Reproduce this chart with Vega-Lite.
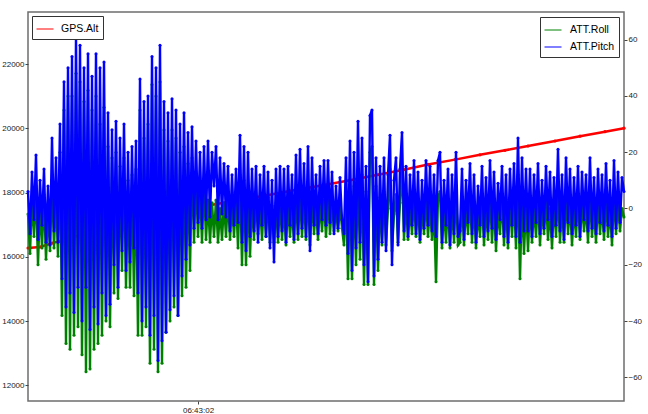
{
"$schema": "https://vega.github.io/schema/vega-lite/v6.json",
"width": 596, "height": 389,
"autosize": {"type": "none"},
"padding": {"left": 28, "top": 12, "right": 24, "bottom": 13},
"background": "white",
"config": {
  "view": {"stroke": "#6e6e6e", "strokeWidth": 1.5},
  "font": "Liberation Sans",
  "axis": {"grid": false, "domain": false, "labelFont": "Liberation Sans", "labelFontSize": 8, "labelColor": "#222", "tickColor": "#444", "tickSize": 3, "title": null, "labelPadding": 1}
},
"encoding": {
  "x": {"field": "t", "type": "temporal",
    "scale": {"domain": [{"year":1900,"month":1,"date":1,"hours":6,"minutes":40,"seconds":12},{"year":1900,"month":1,"date":1,"hours":6,"minutes":50,"seconds":8}], "nice": false},
    "axis": {"values": [{"year":1900,"month":1,"date":1,"hours":6,"minutes":43,"seconds":2}], "format": "%H:%M:%S", "labelAngle": 0, "labelFlush": false, "labelPadding": 2}}
},
"layer": [
  {
    "data": {"format": {"parse": {"t": "date:'%H:%M:%S'"}}, "values": [
      {"t":"06:40:12","alt":16277},{"t":"06:40:24","alt":16308},{"t":"06:40:36","alt":16430},{"t":"06:40:52","alt":16558},
      {"t":"06:41:04","alt":16680},{"t":"06:41:17","alt":16776},{"t":"06:41:34","alt":16931},{"t":"06:41:52","alt":17050},
      {"t":"06:42:09","alt":17149},{"t":"06:42:29","alt":17300},{"t":"06:42:49","alt":17461},{"t":"06:43:15","alt":17617},
      {"t":"06:43:41","alt":17760},{"t":"06:44:07","alt":17897},{"t":"06:44:34","alt":18050},{"t":"06:45:04","alt":18215},
      {"t":"06:45:34","alt":18390},{"t":"06:46:02","alt":18560},{"t":"06:46:29","alt":18720},{"t":"06:46:52","alt":18880},
      {"t":"06:47:19","alt":19030},{"t":"06:47:44","alt":19180},{"t":"06:48:09","alt":19320},{"t":"06:48:32","alt":19455},
      {"t":"06:48:59","alt":19610},{"t":"06:49:24","alt":19760},{"t":"06:49:49","alt":19900},{"t":"06:50:08","alt":20010}
    ]},
    "mark": {"type": "line", "strokeWidth": 2.5, "point": {"filled": true, "size": 10}},
    "encoding": {
      "y": {"field": "alt", "type": "quantitative", "scale": {"domain": [11511, 23629], "nice": false, "zero": false},
        "axis": {"orient": "left", "values": [12000,14000,16000,18000,20000,22000], "format": "d"}},
      "color": {"datum": "GPS.Alt", "scale": {"range": ["#ff0000"]},
        "legend": {"title": null, "orient": "top-left", "offset": 4, "padding": 4, "strokeColor": "#333", "fillColor": "#fff", "cornerRadius": 0,
          "labelFont": "Liberation Sans", "labelFontSize": 10.5, "labelColor": "#000", "symbolType": "stroke", "symbolSize": 289, "symbolStrokeWidth": 1, "labelOffset": 7}}
    }
  },
  {
    "data": {"format": {"parse": {"t": "date:'%H:%M:%S'"}}, "values": [
{"t":"06:40:12","p":6,"r":-2},{"t":"06:40:14","p":-9,"r":-16},{"t":"06:40:16","p":13,"r":4},{"t":"06:40:18","p":-4,"r":-10},{"t":"06:40:20","p":19,"r":8},{"t":"06:40:22","p":-11,"r":-20},{"t":"06:40:24","p":10,"r":2},{"t":"06:40:26","p":-6,"r":-14},{"t":"06:40:28","p":14,"r":5},{"t":"06:40:30","p":-12,"r":-18},{"t":"06:40:32","p":8,"r":0},{"t":"06:40:34","p":-13,"r":-15},{"t":"06:40:36","p":25,"r":10},{"t":"06:40:38","p":-8,"r":-14},{"t":"06:40:40","p":18,"r":6},{"t":"06:40:42","p":-12,"r":-17},{"t":"06:40:44","p":30,"r":20},{"t":"06:40:46","p":-25,"r":-38},{"t":"06:40:48","p":45,"r":35},{"t":"06:40:50","p":-35,"r":-48},{"t":"06:40:52","p":50,"r":40},{"t":"06:40:54","p":-30,"r":-50},{"t":"06:40:56","p":54,"r":40},{"t":"06:40:58","p":-37,"r":-45},
{"t":"06:41:00","p":61,"r":48},{"t":"06:41:02","p":-28,"r":-42},{"t":"06:41:04","p":58,"r":45},{"t":"06:41:06","p":-40,"r":-52},{"t":"06:41:08","p":50,"r":38},{"t":"06:41:10","p":-28,"r":-58},{"t":"06:41:12","p":55,"r":42},{"t":"06:41:14","p":-43,"r":-57},{"t":"06:41:16","p":47,"r":35},{"t":"06:41:18","p":-35,"r":-50},{"t":"06:41:20","p":55,"r":40},{"t":"06:41:22","p":-41,"r":-48},{"t":"06:41:24","p":50,"r":30},{"t":"06:41:26","p":-30,"r":-45},{"t":"06:41:28","p":52,"r":36},{"t":"06:41:30","p":-38,"r":-40},{"t":"06:41:32","p":34,"r":22},{"t":"06:41:34","p":-34,"r":-42},{"t":"06:41:36","p":28,"r":18},{"t":"06:41:38","p":-20,"r":-30},{"t":"06:41:40","p":31,"r":20},{"t":"06:41:42","p":-28,"r":-32},{"t":"06:41:44","p":25,"r":15},{"t":"06:41:46","p":-15,"r":-22},{"t":"06:41:48","p":30,"r":18},{"t":"06:41:50","p":-22,"r":-28},{"t":"06:41:52","p":20,"r":10},{"t":"06:41:54","p":-19,"r":-28},{"t":"06:41:56","p":22,"r":12},{"t":"06:41:58","p":-14,"r":-31},
{"t":"06:42:00","p":24,"r":14},{"t":"06:42:02","p":-30,"r":-45},{"t":"06:42:04","p":46,"r":35},{"t":"06:42:06","p":-40,"r":-45},{"t":"06:42:08","p":38,"r":25},{"t":"06:42:10","p":-35,"r":-42},{"t":"06:42:12","p":40,"r":30},{"t":"06:42:14","p":-45,"r":-55},{"t":"06:42:16","p":54,"r":44},{"t":"06:42:18","p":-38,"r":-50},{"t":"06:42:20","p":50,"r":40},{"t":"06:42:22","p":-54,"r":-58},{"t":"06:42:24","p":58,"r":45},{"t":"06:42:26","p":-47,"r":-55},{"t":"06:42:28","p":38,"r":28},{"t":"06:42:30","p":-44,"r":-44},{"t":"06:42:32","p":34,"r":24},{"t":"06:42:34","p":-36,"r":-40},{"t":"06:42:36","p":39,"r":28},{"t":"06:42:38","p":-31,"r":-35},{"t":"06:42:40","p":35,"r":25},{"t":"06:42:42","p":-38,"r":-38},{"t":"06:42:44","p":30,"r":20},{"t":"06:42:46","p":-24,"r":-31},{"t":"06:42:48","p":34,"r":22},{"t":"06:42:50","p":-18,"r":-28},{"t":"06:42:52","p":27,"r":16},{"t":"06:42:54","p":-13,"r":-22},{"t":"06:42:56","p":29,"r":18},{"t":"06:42:58","p":-7,"r":-12},
{"t":"06:43:00","p":24,"r":12},{"t":"06:43:02","p":-5,"r":-10},{"t":"06:43:04","p":20,"r":8},{"t":"06:43:06","p":-7,"r":-12},{"t":"06:43:08","p":22,"r":10},{"t":"06:43:10","p":-4,"r":-11},{"t":"06:43:12","p":24,"r":3},{"t":"06:43:14","p":-3,"r":-12},{"t":"06:43:16","p":20,"r":2},{"t":"06:43:18","p":8,"r":-10},{"t":"06:43:20","p":22,"r":3},{"t":"06:43:22","p":-4,"r":-12},{"t":"06:43:24","p":18,"r":0},{"t":"06:43:26","p":-2,"r":-11},{"t":"06:43:28","p":16,"r":2},{"t":"06:43:30","p":-3,"r":-10},{"t":"06:43:32","p":15,"r":4},{"t":"06:43:34","p":-8,"r":-11},{"t":"06:43:36","p":12,"r":2},{"t":"06:43:38","p":-6,"r":-10},{"t":"06:43:40","p":14,"r":5},{"t":"06:43:42","p":-5,"r":-14},{"t":"06:43:44","p":26,"r":12},{"t":"06:43:46","p":-12,"r":-20},{"t":"06:43:48","p":22,"r":10},{"t":"06:43:50","p":-15,"r":-20},{"t":"06:43:52","p":20,"r":6},{"t":"06:43:54","p":-10,"r":-17},{"t":"06:43:56","p":14,"r":3},{"t":"06:43:58","p":-8,"r":-11},
{"t":"06:44:00","p":15,"r":4},{"t":"06:44:02","p":-12,"r":-9},{"t":"06:44:04","p":12,"r":2},{"t":"06:44:06","p":-6,"r":-11},{"t":"06:44:08","p":15,"r":3},{"t":"06:44:10","p":-10,"r":-10},{"t":"06:44:12","p":13,"r":4},{"t":"06:44:14","p":-14,"r":-12},{"t":"06:44:16","p":10,"r":1},{"t":"06:44:18","p":-19,"r":-12},{"t":"06:44:20","p":14,"r":2},{"t":"06:44:22","p":-10,"r":-12},{"t":"06:44:24","p":15,"r":3},{"t":"06:44:26","p":-8,"r":-11},{"t":"06:44:28","p":14,"r":1},{"t":"06:44:30","p":-12,"r":-13},{"t":"06:44:32","p":15,"r":2},{"t":"06:44:34","p":-6,"r":-10},{"t":"06:44:36","p":12,"r":0},{"t":"06:44:38","p":-11,"r":-12},{"t":"06:44:40","p":19,"r":5},{"t":"06:44:42","p":-9,"r":-11},{"t":"06:44:44","p":21,"r":5},{"t":"06:44:46","p":-7,"r":-10},{"t":"06:44:48","p":16,"r":3},{"t":"06:44:50","p":-10,"r":-11},{"t":"06:44:52","p":22,"r":6},{"t":"06:44:54","p":-15,"r":-13},{"t":"06:44:56","p":18,"r":4},{"t":"06:44:58","p":-6,"r":-9},
{"t":"06:45:00","p":12,"r":1},{"t":"06:45:02","p":-9,"r":-11},{"t":"06:45:04","p":15,"r":2},{"t":"06:45:06","p":-4,"r":-8},{"t":"06:45:08","p":17,"r":3},{"t":"06:45:10","p":-6,"r":-10},{"t":"06:45:12","p":17,"r":4},{"t":"06:45:14","p":-5,"r":-9},{"t":"06:45:16","p":13,"r":2},{"t":"06:45:18","p":-9,"r":-8},{"t":"06:45:20","p":8,"r":0},{"t":"06:45:22","p":-7,"r":-8},{"t":"06:45:24","p":11,"r":1},{"t":"06:45:26","p":-4,"r":-7},{"t":"06:45:28","p":-9,"r":-13},{"t":"06:45:30","p":18,"r":6},{"t":"06:45:32","p":-16,"r":-25},{"t":"06:45:34","p":24,"r":10},{"t":"06:45:36","p":-22,"r":-25},{"t":"06:45:38","p":20,"r":8},{"t":"06:45:40","p":-14,"r":-20},{"t":"06:45:42","p":31,"r":14},{"t":"06:45:44","p":-12,"r":-18},{"t":"06:45:46","p":25,"r":12},{"t":"06:45:48","p":-20,"r":-27},{"t":"06:45:50","p":15,"r":6},{"t":"06:45:52","p":-26,"r":-27},{"t":"06:45:54","p":33,"r":20},{"t":"06:45:56","p":35,"r":22},{"t":"06:45:58","p":-24,"r":-27},
{"t":"06:46:00","p":18,"r":8},{"t":"06:46:02","p":-18,"r":-22},{"t":"06:46:04","p":15,"r":4},{"t":"06:46:06","p":-12,"r":-13},{"t":"06:46:08","p":18,"r":6},{"t":"06:46:10","p":-15,"r":-13},{"t":"06:46:12","p":12,"r":0},{"t":"06:46:14","p":26,"r":14},{"t":"06:46:16","p":-20,"r":-15},{"t":"06:46:18","p":10,"r":-2},{"t":"06:46:20","p":18,"r":5},{"t":"06:46:22","p":-13,"r":-12},{"t":"06:46:24","p":14,"r":2},{"t":"06:46:26","p":27,"r":15},{"t":"06:46:28","p":-8,"r":-11},{"t":"06:46:30","p":15,"r":3},{"t":"06:46:32","p":-10,"r":-11},{"t":"06:46:34","p":12,"r":1},{"t":"06:46:36","p":-6,"r":-9},{"t":"06:46:38","p":17,"r":4},{"t":"06:46:40","p":-9,"r":-10},{"t":"06:46:42","p":13,"r":2},{"t":"06:46:44","p":-11,"r":-12},{"t":"06:46:46","p":10,"r":0},{"t":"06:46:48","p":-7,"r":-9},{"t":"06:46:50","p":17,"r":4},{"t":"06:46:52","p":-6,"r":-10},{"t":"06:46:54","p":15,"r":2},{"t":"06:46:56","p":-8,"r":-11},{"t":"06:46:58","p":12,"r":0},
{"t":"06:47:00","p":-10,"r":-26},{"t":"06:47:02","p":17,"r":4},{"t":"06:47:04","p":20,"r":6},{"t":"06:47:06","p":-12,"r":-14},{"t":"06:47:08","p":10,"r":0},{"t":"06:47:10","p":-6,"r":-12},{"t":"06:47:12","p":14,"r":2},{"t":"06:47:14","p":-13,"r":-14},{"t":"06:47:16","p":12,"r":1},{"t":"06:47:18","p":-9,"r":-12},{"t":"06:47:20","p":20,"r":6},{"t":"06:47:22","p":-10,"r":-13},{"t":"06:47:24","p":-8,"r":-12},{"t":"06:47:26","p":14,"r":3},{"t":"06:47:28","p":-11,"r":-13},{"t":"06:47:30","p":10,"r":1},{"t":"06:47:32","p":-5,"r":-9},{"t":"06:47:34","p":16,"r":5},{"t":"06:47:36","p":-9,"r":-12},{"t":"06:47:38","p":12,"r":2},{"t":"06:47:40","p":-12,"r":-14},{"t":"06:47:42","p":8,"r":-1},{"t":"06:47:44","p":-6,"r":-10},{"t":"06:47:46","p":15,"r":4},{"t":"06:47:48","p":-10,"r":-13},{"t":"06:47:50","p":11,"r":1},{"t":"06:47:52","p":-8,"r":-11},{"t":"06:47:54","p":17,"r":6},{"t":"06:47:56","p":-7,"r":-12},{"t":"06:47:58","p":13,"r":2},
{"t":"06:48:00","p":-11,"r":-15},{"t":"06:48:02","p":9,"r":0},{"t":"06:48:04","p":-4,"r":-9},{"t":"06:48:06","p":15,"r":4},{"t":"06:48:08","p":-10,"r":-13},{"t":"06:48:10","p":12,"r":2},{"t":"06:48:12","p":-12,"r":-14},{"t":"06:48:14","p":14,"r":3},{"t":"06:48:16","p":-6,"r":-10},{"t":"06:48:18","p":16,"r":4},{"t":"06:48:20","p":-10,"r":-14},{"t":"06:48:22","p":25,"r":12},{"t":"06:48:24","p":-12,"r":-25},{"t":"06:48:26","p":18,"r":5},{"t":"06:48:28","p":-8,"r":-16},{"t":"06:48:30","p":14,"r":2},{"t":"06:48:32","p":-8,"r":-15},{"t":"06:48:34","p":14,"r":2},{"t":"06:48:36","p":-10,"r":-12},{"t":"06:48:38","p":12,"r":0},{"t":"06:48:40","p":-5,"r":-10},{"t":"06:48:42","p":16,"r":4},{"t":"06:48:44","p":-9,"r":-13},{"t":"06:48:46","p":10,"r":1},{"t":"06:48:48","p":-7,"r":-9},{"t":"06:48:50","p":15,"r":3},{"t":"06:48:52","p":-4,"r":-11},{"t":"06:48:54","p":13,"r":0},{"t":"06:48:56","p":-10,"r":-14},{"t":"06:48:58","p":11,"r":2},
{"t":"06:49:00","p":-6,"r":-10},{"t":"06:49:02","p":21,"r":6},{"t":"06:49:04","p":-8,"r":-12},{"t":"06:49:06","p":12,"r":1},{"t":"06:49:08","p":-11,"r":-12},{"t":"06:49:10","p":18,"r":5},{"t":"06:49:12","p":-5,"r":-9},{"t":"06:49:14","p":14,"r":2},{"t":"06:49:16","p":-9,"r":-13},{"t":"06:49:18","p":11,"r":0},{"t":"06:49:20","p":-6,"r":-10},{"t":"06:49:22","p":15,"r":4},{"t":"06:49:24","p":-10,"r":-11},{"t":"06:49:26","p":13,"r":2},{"t":"06:49:28","p":-4,"r":-8},{"t":"06:49:30","p":12,"r":1},{"t":"06:49:32","p":-8,"r":-12},{"t":"06:49:34","p":18,"r":5},{"t":"06:49:36","p":-7,"r":-10},{"t":"06:49:38","p":11,"r":0},{"t":"06:49:40","p":-9,"r":-12},{"t":"06:49:42","p":14,"r":3},{"t":"06:49:44","p":-5,"r":-9},{"t":"06:49:46","p":12,"r":1},{"t":"06:49:48","p":-8,"r":-11},{"t":"06:49:50","p":16,"r":4},{"t":"06:49:52","p":-6,"r":-10},{"t":"06:49:54","p":10,"r":0},{"t":"06:49:56","p":-10,"r":-13},{"t":"06:49:58","p":17,"r":5},
{"t":"06:50:00","p":-7,"r":-9},{"t":"06:50:02","p":13,"r":2},{"t":"06:50:04","p":-5,"r":-8},{"t":"06:50:06","p":11,"r":0},{"t":"06:50:08","p":6,"r":-3}
    ]},
    "layer": [
      {
        "mark": {"type": "line", "strokeWidth": 2.4, "point": {"filled": true, "size": 9}},
        "encoding": {
          "y": {"field": "r", "type": "quantitative", "scale": {"domain": [-68.4, 69.8], "nice": false, "zero": false},
            "axis": {"orient": "right", "values": [-60,-40,-20,0,20,40,60]}},
          "color": {"datum": "ATT.Roll", "scale": {"domain": ["ATT.Roll", "ATT.Pitch"], "range": ["#008000", "#0000ff"]},
            "legend": {"title": null, "orient": "top-right", "offset": 5, "padding": 4, "strokeColor": "#333", "fillColor": "#fff", "cornerRadius": 0,
              "labelFont": "Liberation Sans", "labelFontSize": 10.5, "labelColor": "#000", "symbolType": "stroke", "symbolSize": 289, "symbolStrokeWidth": 1, "labelOffset": 8, "rowPadding": 2}}
        }
      },
      {
        "mark": {"type": "line", "strokeWidth": 2.4, "point": {"filled": true, "size": 9}},
        "encoding": {
          "y": {"field": "p", "type": "quantitative"},
          "color": {"datum": "ATT.Pitch"}
        }
      }
    ]
  }
],
"resolve": {"scale": {"y": "independent", "color": "independent"}}
}
